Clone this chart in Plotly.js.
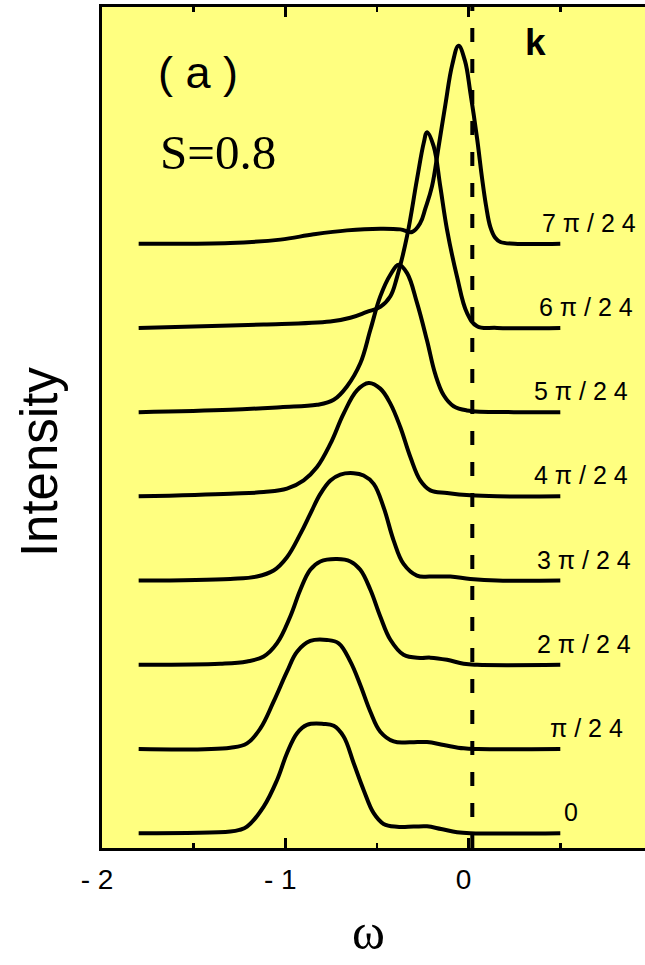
<!DOCTYPE html>
<html>
<head>
<meta charset="utf-8">
<script src="https://cdn.plot.ly/plotly-3.0.1.min.js"></script>
<style>html,body{margin:0;padding:0;background:#fff;}#chart{width:645px;height:965px;}</style>
</head>
<body>
<div id="chart"></div>
<script>
// ---- data (omega, intensity) for each k ----
const kLabels = ['0', 'π / 2 4', '2 π / 2 4', '3 π / 2 4', '4 π / 2 4', '5 π / 2 4', '6 π / 2 4', '7 π / 2 4'];

const omega0 = [-1.8, -1.3, -1.25, -1.209, -1.118, -1.045, -0.991, -0.936, -0.882, -0.791, -0.736, -0.682, -0.627, -0.573, -0.518, -0.464, -0.391, -0.30, -0.227, -0.15, -0.063, 0.009, 0.5];
const inten0 = [0, 0.02, 0.04, 0.079, 0.317, 0.633, 0.95, 1.188, 1.287, 1.298, 1.275, 1.148, 0.831, 0.515, 0.238, 0.111, 0.077, 0.079, 0.082, 0.05, 0.012, 0, 0];

const omega1 = [-1.8, -1.3, -1.209, -1.136, -1.064, -0.991, -0.936, -0.864, -0.773, -0.709, -0.645, -0.591, -0.536, -0.482, -0.409, -0.318, -0.227, -0.136, -0.027, 0.05, 0.5];
const inten1 = [0, 0.016, 0.067, 0.245, 0.562, 0.918, 1.156, 1.283, 1.295, 1.255, 1.037, 0.76, 0.443, 0.206, 0.09, 0.08, 0.083, 0.048, 0.008, 0, 0];

const omega2 = [-1.8, -1.355, -1.209, -1.118, -1.045, -0.973, -0.918, -0.864, -0.809, -0.718, -0.645, -0.591, -0.536, -0.482, -0.427, -0.355, -0.264, -0.209, -0.118, -0.027, 0.046, 0.5];
const inten2 = [0, 0.012, 0.04, 0.099, 0.257, 0.574, 0.891, 1.128, 1.227, 1.255, 1.227, 1.128, 0.891, 0.574, 0.297, 0.119, 0.082, 0.085, 0.059, 0.012, 0, 0];

const omega3 = [-1.8, -1.3, -1.155, -1.064, -0.991, -0.918, -0.864, -0.809, -0.754, -0.7, -0.627, -0.573, -0.518, -0.464, -0.409, -0.355, -0.282, -0.209, -0.1, 0.009, 0.155, 0.5];
const inten3 = [0, 0.02, 0.048, 0.119, 0.277, 0.554, 0.792, 1.029, 1.188, 1.259, 1.275, 1.247, 1.148, 0.871, 0.475, 0.198, 0.059, 0.048, 0.048, 0.02, 0, 0];

const omega4 = [-1.8, -1.3, -1.118, -0.991, -0.9, -0.827, -0.754, -0.682, -0.609, -0.545, -0.482, -0.427, -0.373, -0.318, -0.264, -0.209, -0.118, 0.009, 0.155, 0.5];
const inten4 = [0, 0.032, 0.051, 0.091, 0.19, 0.348, 0.625, 0.982, 1.259, 1.346, 1.279, 1.101, 0.823, 0.467, 0.19, 0.071, 0.04, 0.012, 0, 0];

const omega5 = [-1.8, -1.3, -1.027, -0.827, -0.736, -0.664, -0.591, -0.536, -0.482, -0.427, -0.382, -0.336, -0.282, -0.227, -0.182, -0.136, -0.082, -0.01, 0.246, 0.5];
const inten5 = [0, 0.028, 0.059, 0.087, 0.146, 0.305, 0.58, 0.978, 1.374, 1.631, 1.75, 1.651, 1.30, 0.85, 0.45, 0.2, 0.07, 0.02, 0, 0];

const omega6 = [-1.8, -1.3, -1.118, -0.755, -0.645, -0.555, -0.482, -0.427, -0.391, -0.336, -0.282, -0.245, -0.227, -0.191, -0.155, -0.118, -0.064, -0.009, 0.046, 0.155, 0.5];
const inten6 = [0, 0.028, 0.04, 0.075, 0.12, 0.19, 0.25, 0.376, 0.6, 1.089, 1.762, 2.197, 2.324, 2.158, 1.683, 1.168, 0.614, 0.178, 0.02, 0, 0];

const omega7 = [-1.8, -1.3, -1.027, -0.845, -0.664, -0.482, -0.373, -0.309, -0.264, -0.236, -0.2, -0.164, -0.127, -0.09, -0.055, -0.02, 0.009, 0.046, 0.073, 0.095, 0.118, 0.145, 0.173, 0.25, 0.5];
const inten7 = [0, 0.008, 0.048, 0.111, 0.158, 0.178, 0.17, 0.139, 0.245, 0.42, 0.68, 1.15, 1.65, 2.12, 2.35, 2.17, 1.80, 1.25, 0.78, 0.45, 0.2, 0.07, 0.02, 0, 0];

const kOmega = 0.02;          // vertical dashed reference line
const xTickVals = [-2, -1, 0];
const xTickText = ['- 2', '- 1', '0'];
const xMinorVals = [-1.5, -0.5, 0.5];

// ---- layout-only positions for the k labels (omega of label centre) ----
const labelX = [0.56, 0.642, 0.628, 0.628, 0.612, 0.612, 0.639, 0.656];

const omegas = [omega0, omega1, omega2, omega3, omega4, omega5, omega6, omega7];
const intens = [inten0, inten1, inten2, inten3, inten4, inten5, inten6, inten7];

const traces = omegas.map((w, i) => ({
  x: w,
  y: intens[i].map(v => v + i),   // stacked with a unit offset per k
  type: 'scatter',
  mode: 'lines',
  line: {color: '#000', width: 4, shape: 'spline', smoothing: 1.1},
  name: kLabels[i],
  hoverinfo: 'skip'
}));

const annotations = kLabels.map((t, i) => ({
  x: labelX[i], y: i + 0.25, xref: 'x', yref: 'y',
  text: t, showarrow: false, xanchor: 'center', yanchor: 'middle',
  font: {family: 'Liberation Sans, Arial, sans-serif', size: 25, color: '#000'}
}));

annotations.push(
  {x: 0.176, y: 0.922, xref: 'paper', yref: 'paper', text: '( a )', showarrow: false,
   xanchor: 'center', yanchor: 'middle', font: {family: 'Liberation Sans, Arial, sans-serif', size: 45, color: '#000'}},
  {x: 0.2136, y: 0.827, xref: 'paper', yref: 'paper', text: 'S=0.8', showarrow: false,
   xanchor: 'center', yanchor: 'middle', font: {family: 'Liberation Serif, Times New Roman, serif', size: 49, color: '#000'}},
  {x: 0.799, y: 0.958, xref: 'paper', yref: 'paper', text: '<b>k</b>', showarrow: false,
   xanchor: 'center', yanchor: 'middle', font: {family: 'Liberation Sans, Arial, sans-serif', size: 37, color: '#000'}},
  {x: -0.114, y: 0.459, xref: 'paper', yref: 'paper', text: 'Intensity', showarrow: false, textangle: -90,
   xanchor: 'center', yanchor: 'middle', font: {family: 'Liberation Sans, Arial, sans-serif', size: 51, color: '#000'}},
  {x: 0.4916, y: -0.1, xref: 'paper', yref: 'paper', text: 'ω', showarrow: false,
   xanchor: 'center', yanchor: 'middle',
   font: {family: 'Liberation Serif, Times New Roman, serif', size: 50, color: '#000'}}
);

const layout = {
  width: 645, height: 965,
  margin: {l: 102, r: 0, t: 7, b: 117, pad: 0},
  paper_bgcolor: '#ffffff',
  plot_bgcolor: '#ffff80',
  showlegend: false,
  xaxis: {
    range: [-2, 0.962],
    showgrid: false, zeroline: false,
    showline: true, linecolor: '#000', linewidth: 3, mirror: 'ticks',
    ticks: 'inside', ticklen: 10, tickwidth: 2.5, tickcolor: '#000',
    tickmode: 'array', tickvals: xTickVals, ticktext: xTickText,
    minor: {tickmode: 'array', tickvals: xMinorVals, ticks: 'inside', ticklen: 5, tickwidth: 2.5, tickcolor: '#000', showgrid: false},
    tickfont: {family: 'Liberation Sans, Arial, sans-serif', size: 28, color: '#000'},
    ticklabelshift: -5,
    ticklabelstandoff: 4
  },
  yaxis: {
    range: [-0.175, 9.81],
    showgrid: false, zeroline: false,
    showline: true, linecolor: '#000', linewidth: 3, mirror: false,
    ticks: '', showticklabels: false
  },
  shapes: [{
    type: 'line', xref: 'x', yref: 'paper', x0: kOmega, x1: kOmega, y0: 0, y1: 1,
    line: {color: '#000', width: 4, dash: '14px,17px'}
  }],
  annotations: annotations
};

Plotly.newPlot('chart', traces, layout, {staticPlot: true, displayModeBar: false});
</script>
</body>
</html>
